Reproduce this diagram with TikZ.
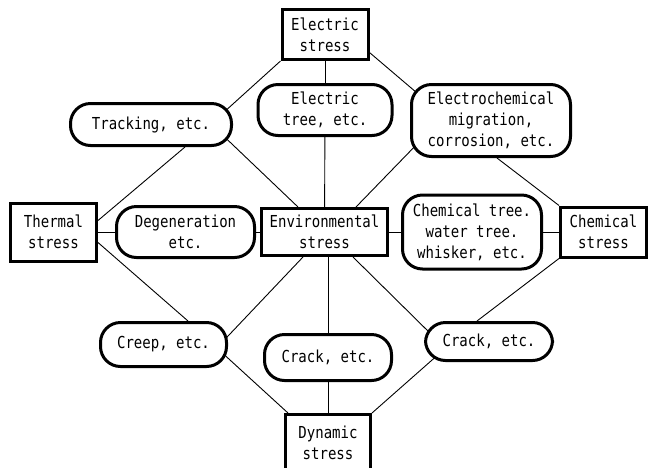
\documentclass[tikz,border=0pt]{standalone}
\usepackage{fontspec}
\newfontfamily\gothic[FakeStretch=0.85]{DejaVu Sans Mono}
\usetikzlibrary{positioning, backgrounds}

\begin{document}
\begin{tikzpicture}[
    x=1pt, y=-1pt,
    node distance=10pt,
    % gaya kotak (nodes)
    box/.style={rectangle, draw=black, fill=white, line width=3pt, align=center, inner sep=2pt,
        font={\gothic\fontsize{16.5}{21}\selectfont}},
    rbox/.style={box, rounded corners=20pt},
    % gaya garis penghubung
    link/.style={line width=0.9pt, draw=black}
]
\useasboundingbox (0,0) rectangle (648,467);

% Baris tengah
\node (env) [box, minimum width=126pt, minimum height=47pt] at (324.5,232) {Environmental\\stress};
\node (degen) [rbox, left=4pt of env, minimum width=138pt, minimum height=51pt] {Degeneration\\etc.};
\node (therm) [box, left=17pt of degen, minimum width=86pt, minimum height=58pt] {Thermal\\stress};
\node (ctree) [rbox, right=12pt of env, minimum width=139pt, minimum height=74pt] {Chemical tree.\\water tree.\\whisker, etc.};
\node (chem) [box, right=16pt of ctree, minimum width=86pt, minimum height=50pt] {Chemical\\stress};

% Bagian atas
\node (etree) [rbox, minimum width=134pt, minimum height=51pt] at (325,110) {Electric\\tree, etc.};
\node (elec) [box, above=22pt of etree, minimum width=86pt, minimum height=50pt] {Electric\\stress};
\node (track) [rbox, minimum width=161pt, minimum height=42pt] at (151,124.5) {Tracking, etc.};
\node (echem) [rbox, minimum width=159pt, minimum height=72pt] at (491,120.5) {Electrochemical\\migration,\\corrosion, etc.};

% Bagian bawah
\node (creep) [rbox, minimum width=126pt, minimum height=44pt] at (163.5,344.5) {Creep, etc.};
\node (crackm) [rbox, minimum width=127pt, minimum height=46pt] at (328,357.5) {Crack, etc.};
\node (crackr) [rbox, minimum width=127pt, minimum height=38pt] at (489,341.5) {Crack, etc.};
\node (dyn) [box, below=31pt of crackm, minimum width=85pt, minimum height=57pt] {Dynamic\\stress};

% Garis penghubung (di belakang kotak)
\begin{scope}[on background layer]
\draw [link] (elec.south west) -- ([xshift=-10pt,yshift=-11pt]track.north east);
\draw [link] (elec) -- (etree);
\draw [link] ([yshift=-18pt]elec.east) -- ([xshift=10pt,yshift=-12.5pt]echem.north west);

\draw [link] ([xshift=34pt]track.south) -- ([yshift=11.5pt]therm.east);
\draw [link] ([xshift=-11pt,yshift=12.5pt]track.south east) -- ([xshift=-26.5pt]env.north);
\draw [link] (etree) -- (env);
\draw [link] ([xshift=11pt,yshift=18pt]echem.south west) -- ([xshift=31.5pt]env.north);
\draw [link] ([xshift=6pt]echem.south) -- (chem.north west);

\draw [link] (therm) -- (degen);
\draw [link] (degen) -- (env);
\draw [link] (env) -- (ctree);
\draw [link] (ctree) -- (chem);

\draw [link] ([yshift=-10.5pt]therm.east) -- ([xshift=24.5pt]creep.north);
\draw [link] ([xshift=-21.5pt]env.south) -- ([xshift=-8pt]creep.east);
\draw [link] ([xshift=3.5pt]env.south) -- (crackm);
\draw [link] ([xshift=28.5pt]env.south) -- ([xshift=10pt,yshift=4.5pt]crackr.west);
\draw [link] (chem.south west) -- ([xshift=-12pt]crackr.north);

\draw [link] ([xshift=-10pt,yshift=-4.5pt]creep.east) -- ([xshift=4pt]dyn.north west);
\draw [link] (crackm) -- (dyn);
\draw [link] ([xshift=16pt,yshift=9pt]crackr.south west) -- (dyn.north east);
\end{scope}

\end{tikzpicture}
\end{document}
